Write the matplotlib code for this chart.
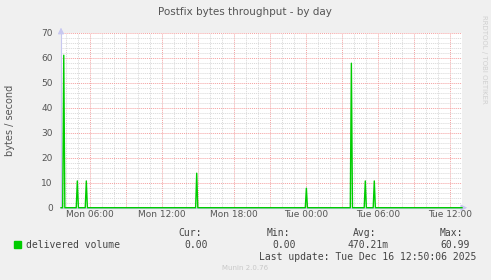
"""Munin-style Postfix bytes throughput (by day) chart."""

import matplotlib
matplotlib.use("Agg")
import matplotlib.pyplot as plt
import matplotlib.ticker as ticker

# ── Data (hours since Mon 00:00, bytes / second) ─────────────────────────────
SPIKE_HOURS = [3.81, 4.94, 5.69, 14.89, 24.03, 27.78, 28.94, 29.69]
SPIKE_VALUES = [60.99, 10.7, 10.7, 13.8, 7.8, 57.8, 10.7, 10.7]
X_START, X_END = 3.58, 37.0

TICK_HOURS = [6, 12, 18, 24, 30, 36]
TICK_LABELS = ["Mon 06:00", "Mon 12:00", "Mon 18:00", "Tue 00:00", "Tue 06:00", "Tue 12:00"]

LEGEND_LABEL = "delivered volume"
STATS = {"Cur:": "0.00", "Min:": "0.00", "Avg:": "470.21m", "Max:": "60.99"}
LAST_UPDATE = "Last update: Tue Dec 16 12:50:06 2025"

# ── Palette ──────────────────────────────────────────────────────────────────
BG = "#F0F0F0"
LINE = "#00CC00"
MAJOR = "#F4A0A0"
MINOR = "#D8D8D8"
TEXT = "#555555"
AXIS = "#C8C8F0"

W, H = 491, 280
L, R, T, B = 61, 462, 32.7, 207.7


def build_series():
    xs, ys = [X_START], [0.0]
    for h, v in zip(SPIKE_HOURS, SPIKE_VALUES):
        xs += [h - 0.09, h, h + 0.09]
        ys += [0.0, v, 0.0]
    xs.append(X_END)
    ys.append(0.0)
    return xs, ys


fig = plt.figure(figsize=(W / 100, H / 100), dpi=100)
fig.patch.set_facecolor(BG)
ax = fig.add_axes([L / W, 1 - B / H, (R - L) / W, (B - T) / H])
ax.set_facecolor("white")

ax.set_xlim(X_START, X_END)
ax.set_ylim(0, 70)
ax.set_yticks(range(0, 71, 10))
ax.yaxis.set_minor_locator(ticker.MultipleLocator(2))
ax.xaxis.set_minor_locator(ticker.MultipleLocator(1))

# red grid every 3 hours, labels only every 6 hours
major_hours = list(range(6, 38, 3))
ax.set_xticks(major_hours)
ax.set_xticklabels([TICK_LABELS[TICK_HOURS.index(h)] if h in TICK_HOURS else ""
                    for h in major_hours])

ax.grid(True, which="minor", color=MINOR, linestyle=(0, (1, 1)), linewidth=0.7)
ax.grid(True, which="major", color=MAJOR, linestyle=(0, (1, 1)), linewidth=0.7)
ax.set_axisbelow(True)
ax.tick_params(axis="both", which="both", length=0, labelsize=6.5, colors=TEXT)
ax.tick_params(axis="x", pad=2)
ax.tick_params(axis="y", pad=6)

for name, spine in ax.spines.items():
    spine.set_visible(name in ("left", "bottom"))
    spine.set_color(AXIS)
    spine.set_linewidth(0.8)

xs, ys = build_series()
ax.plot(xs, ys, color=LINE, linewidth=1.0, clip_on=False, zorder=5)

# axis arrows
ax.annotate("", xy=(0, 1.045), xytext=(0, 0.99), xycoords="axes fraction",
            arrowprops=dict(arrowstyle="-|>", color=AXIS, lw=0.8, mutation_scale=9))
ax.annotate("", xy=(1.02, 0), xytext=(0.995, 0), xycoords="axes fraction",
            arrowprops=dict(arrowstyle="-|>", color=AXIS, lw=0.8, mutation_scale=9))

ax.set_ylabel("bytes / second", fontsize=7, color=TEXT)
ax.yaxis.set_label_coords(-(L - 15) / (R - L), 0.5)

fig.text(245 / W, 1 - 12 / H, "Postfix bytes throughput - by day",
         ha="center", va="center", fontsize=7.5, color=TEXT)
fig.text(484 / W, 1 - 59 / H, "RRDTOOL / TOBI OETIKER", rotation=270,
         ha="center", va="center", fontsize=5, color="#D0D0D0")

# legend block
mono = "DejaVu Sans Mono"
fig.patches.append(plt.Rectangle((14 / W, 1 - 248 / H), 7 / W, 7 / H,
                                 transform=fig.transFigure, color=LINE))
fig.text(26 / W, 1 - 244.5 / H, LEGEND_LABEL, family=mono, fontsize=7,
         color="#444444", va="center")
for (head, val), hx, vx in zip(STATS.items(), [202, 290, 376, 463], [208, 296, 389, 470]):
    fig.text(hx / W, 1 - 233 / H, head, family=mono, fontsize=7, color="#444444",
             ha="right", va="center")
    fig.text(vx / W, 1 - 244.5 / H, val, family=mono, fontsize=7, color="#444444",
             ha="right", va="center")
fig.text(476 / W, 1 - 257 / H, LAST_UPDATE, family=mono, fontsize=7, color="#444444",
         ha="right", va="center")
fig.text(245 / W, 1 - 268.5 / H, "Munin 2.0.76", fontsize=5, color="#C8C8C8",
         ha="center", va="center")

fig.savefig("out.png", dpi=100, facecolor=BG)
